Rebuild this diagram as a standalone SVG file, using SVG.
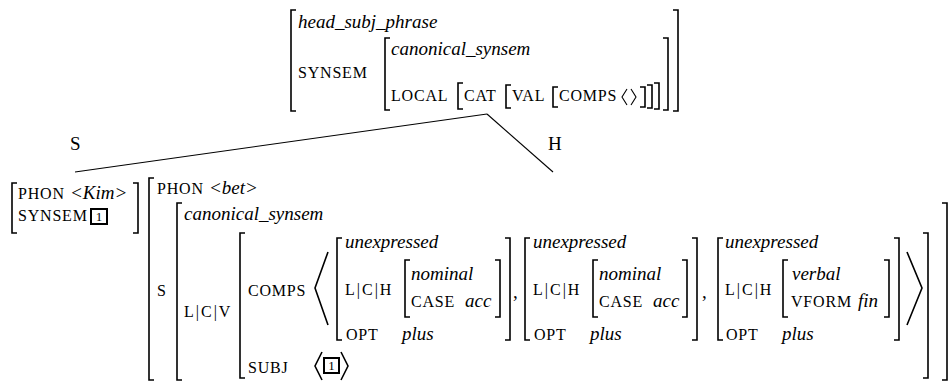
<svg xmlns="http://www.w3.org/2000/svg" width="952" height="381" viewBox="0 0 952 381">
<style>
.sc{font-family:"Liberation Serif","Times New Roman",serif;font-size:16px;letter-spacing:0.8px;fill:#000}
.bar{letter-spacing:2px}
.it{font-family:"Liberation Serif","Times New Roman",serif;font-style:italic;font-size:19px;fill:#000}
.rm{font-family:"Liberation Serif","Times New Roman",serif;font-size:19px;fill:#000}
.tag{font-family:"Liberation Serif","Times New Roman",serif;font-size:13px;fill:#000;text-anchor:middle}
.br{fill:none;stroke:#000;stroke-width:1.6}
.box{fill:none;stroke:#000;stroke-width:2}
.ln{fill:none;stroke:#000;stroke-width:1.1}
</style>
<rect width="952" height="381" fill="#fff"/>
<g id="connectors">
<path class="ln" d="M487,114 L75,172"/>
<path class="ln" d="M487,114 L553,172"/>
</g>
<g id="mother">
<path class="br" d="M296,10 H291 V111 H296 M673,10 H678 V111 H673"/>
<path class="br" d="M390,38 H385 V110 H390 M663,38 H668 V110 H663"/>
<path class="br" d="M463,83 H458 V109 H463 M654,83 H659 V109 H654"/>
<path class="br" d="M511,85 H506 V108 H511 M647,85 H652 V108 H647"/>
<path class="br" d="M558,87 H553 V107 H558 M640,87 H645 V107 H640"/>
<text class="it" x="298" y="28">head_subj_phrase</text>
<text class="sc" x="298" y="78">SYNSEM</text>
<text class="it" x="391" y="55">canonical_synsem</text>
<text class="sc" x="391" y="101">LOCAL</text>
<text class="sc" x="464" y="101">CAT</text>
<text class="sc" x="512" y="101">VAL</text>
<text class="sc" x="559" y="101">COMPS</text>
<path class="ln" d="M627,89 L622,97 L627,105 M631,89 L636,97 L631,105"/>
</g>
<g id="label-s">
<text class="rm" x="70" y="150">S</text>
</g>
<g id="label-h">
<text class="rm" x="548" y="150">H</text>
</g>
<g id="kim">
<path class="br" d="M17,183 H12 V233 H17 M133,183 H138 V233 H133"/>
<text class="sc" x="18" y="199">PHON</text>
<text class="it" x="70" y="199">&lt;Kim&gt;</text>
<text class="sc" x="18" y="221">SYNSEM</text>
<rect class="box" x="91" y="209" width="16" height="15"/>
<text class="tag" x="99" y="221">1</text>
</g>
<g id="bet">
<path class="br" d="M154,178 H149 V380 H154"/>
<path class="br" d="M182,203 H177 V380 H182 M942,203 H947 V380 H942"/>
<path class="br" d="M245,233 H240 V378 H245 M923,233 H928 V378 H923"/>
<text class="sc" x="157" y="194">PHON</text>
<text class="it" x="209" y="194">&lt;bet&gt;</text>
<text class="sc" x="157" y="296">S</text>
<text class="it" x="184" y="220">canonical_synsem</text>
<text class="sc bar" x="184" y="317">L|C|V</text>
<text class="sc" x="248" y="296">COMPS</text>
<path class="br" d="M328,252 L315,288 L328,325"/>
<path class="br" d="M907,252 L922,288 L907,325"/>
<g id="elem1">
<path class="br" d="M342,238 H337 V340 H342 M505,238 H510 V340 H505"/>
<path class="br" d="M410,260 H405 V317 H410 M495,260 H500 V317 H495"/>
<text class="it" x="345" y="248">unexpressed</text>
<text class="sc bar" x="345" y="295">L|C|H</text>
<text class="it" x="411" y="280">nominal</text>
<text class="sc" x="411" y="307">CASE</text>
<text class="it" x="465" y="307">acc</text>
<text class="sc" x="346" y="340">OPT</text>
<text class="it" x="402" y="340">plus</text>
</g>
<text class="rm" x="513" y="298">,</text>
<g id="elem2">
<path class="br" d="M530,238 H525 V340 H530 M692,238 H697 V340 H692"/>
<path class="br" d="M598,260 H593 V317 H598 M682,260 H687 V317 H682"/>
<text class="it" x="533" y="248">unexpressed</text>
<text class="sc bar" x="533" y="295">L|C|H</text>
<text class="it" x="599" y="280">nominal</text>
<text class="sc" x="599" y="307">CASE</text>
<text class="it" x="653" y="307">acc</text>
<text class="sc" x="534" y="340">OPT</text>
<text class="it" x="590" y="340">plus</text>
</g>
<text class="rm" x="702" y="298">,</text>
<g id="elem3">
<path class="br" d="M723,238 H718 V340 H723 M894,238 H899 V340 H894"/>
<path class="br" d="M788,260 H783 V317 H788 M884,260 H889 V317 H884"/>
<text class="it" x="792" y="280">verbal</text>
<text class="it" x="725" y="248">unexpressed</text>
<text class="sc bar" x="725" y="295">L|C|H</text>
<text class="sc" x="791" y="307">VFORM</text>
<text class="it" x="858" y="307">fin</text>
<text class="sc" x="726" y="340">OPT</text>
<text class="it" x="782" y="340">plus</text>
</g>
<text class="sc" x="248" y="373">SUBJ</text>
<path class="br" d="M322,352 L315,366 L322,380 M341,352 L348,366 L341,380"/>
<rect class="box" x="324" y="358" width="15" height="15"/>
<text class="tag" x="331.5" y="370">1</text>
</g>
</svg>
